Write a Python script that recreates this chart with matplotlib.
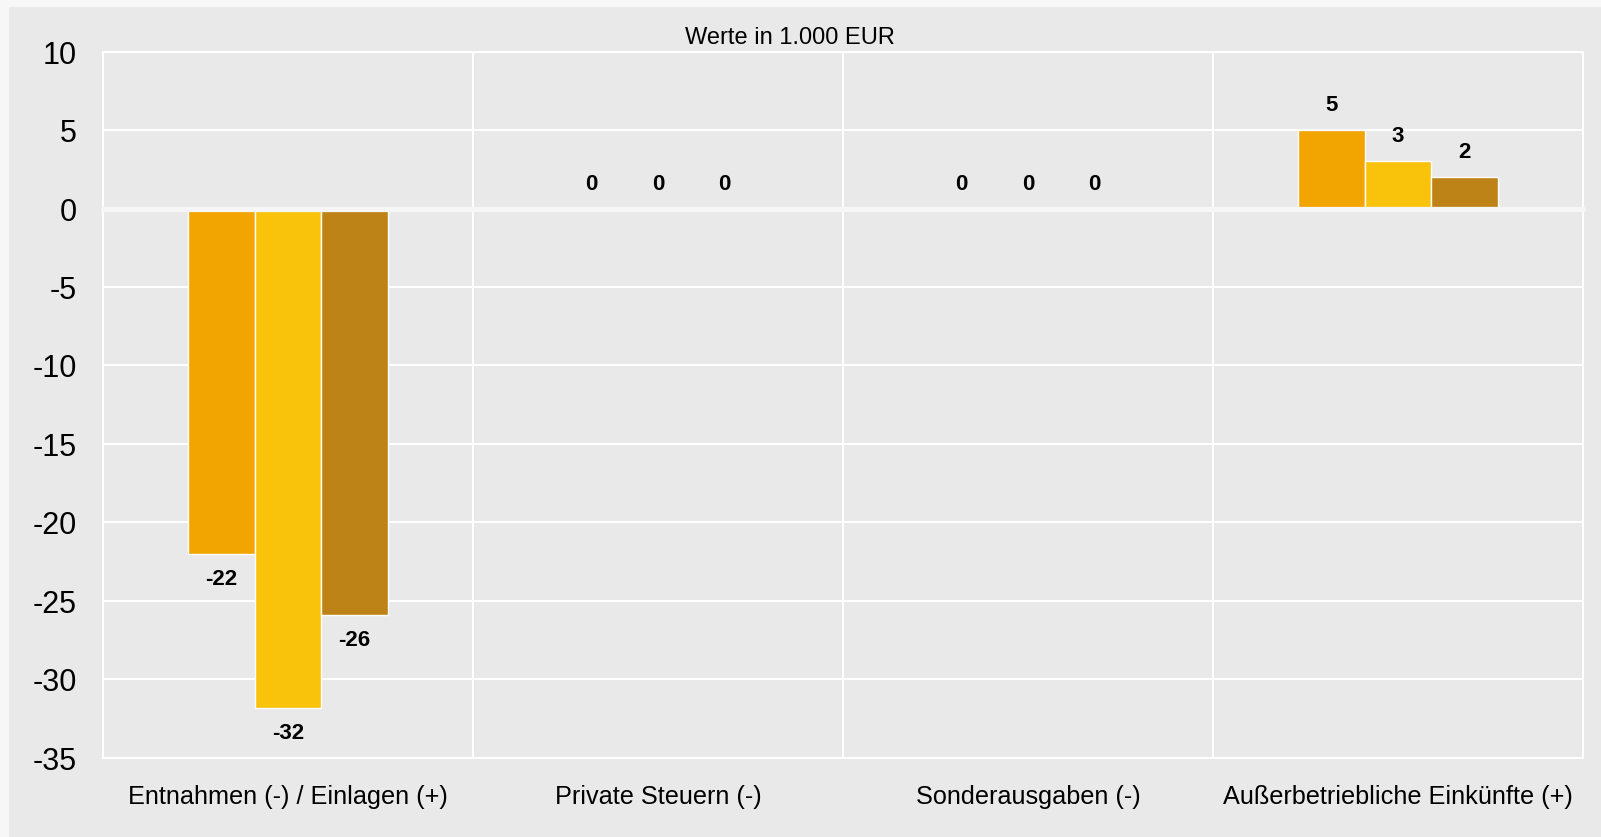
import numpy as np
import matplotlib
matplotlib.use('Agg')
import matplotlib.pyplot as plt
from matplotlib.patches import Rectangle

plt.rcParams['font.family'] = ['Liberation Sans', 'DejaVu Sans']
plt.rcParams['axes.unicode_minus'] = False

categories = ['Entnahmen (-) / Einlagen (+)', 'Private Steuern (-)',
              'Sonderausgaben (-)', 'Außerbetriebliche Einkünfte (+)']
serie_1 = [-22.0, 0.0, 0.0, 5.0]
serie_2 = [-31.8, 0.0, 0.0, 3.0]
serie_3 = [-25.9, 0.0, 0.0, 2.0]
colors = ['#F2A500', '#F9C20B', '#BE8316']
yticks = [10, 5, 0, -5, -10, -15, -20, -25, -30, -35]
title = 'Werte in 1.000 EUR'

fig = plt.figure(figsize=(16.01, 8.375), dpi=100, facecolor='#f7f7f7')
# inner grey panel
fig.patches.append(Rectangle((9/1601, 0), 1 - 9/1601, 1 - 7/837,
                             transform=fig.transFigure, facecolor='#e8e9e8',
                             edgecolor='none', zorder=-10))
ax = fig.add_axes([103/1601, 1 - 758/837, 1480/1601, 706/837])
ax.set_facecolor('#e8e9e8')

x = np.arange(len(categories))
w = 0.18
for i, vals in enumerate([serie_1, serie_2, serie_3]):
    pos = x + (i - 1) * w
    ax.bar(pos, vals, width=w, color=colors[i], edgecolor='white',
           linewidth=1.0, zorder=3)
    for xp, v in zip(pos, vals):
        off = -18 if v < 0 else 18
        ax.annotate('%d' % round(v), (xp, v), xytext=(0, off),
                    textcoords='offset points', ha='center', va='center',
                    fontsize=16, fontweight='bold', color='black', zorder=4)

# zero line on top of the bar edges
ax.axhline(0, color='#f6f6f6', linewidth=3.8, solid_capstyle='round',
           zorder=3.5, clip_on=False)

ax.set_xlim(-0.5, 3.5)
ax.set_ylim(-35, 10)
ax.set_yticks(yticks)
ax.set_xticks(x)
ax.set_xticklabels(categories, fontsize=18.2)
ax.set_xticks(x[:-1] + 0.5, minor=True)
ax.tick_params(axis='y', labelsize=22, length=0, pad=19)
ax.tick_params(axis='x', length=0, pad=19)
ax.tick_params(axis='x', which='minor', length=0)
ax.grid(axis='y', color='white', linewidth=1.5, zorder=1)
ax.grid(axis='x', which='minor', color='white', linewidth=1.5, zorder=1)
ax.grid(axis='x', which='major', visible=False)
ax.set_axisbelow(True)
for s in ax.spines.values():
    s.set_color('white')
    s.set_linewidth(1.5)

fig.text(790/1601, 1 - 38/837, title, ha='center', va='center', fontsize=17)

fig.savefig('out.png', dpi=100, facecolor=fig.get_facecolor())
